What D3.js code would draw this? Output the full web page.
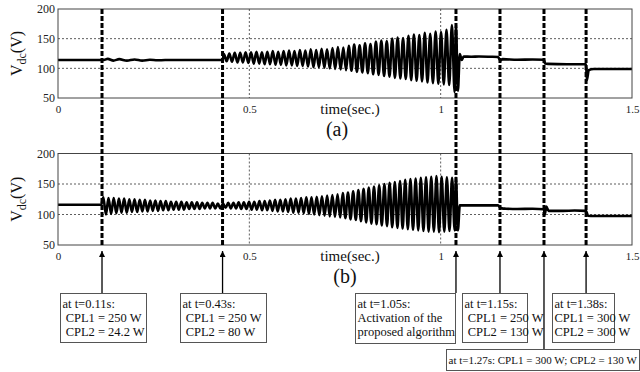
<!DOCTYPE html>
<html>
<head>
<meta charset="utf-8">
<script src="https://cdn.jsdelivr.net/npm/d3@7/dist/d3.min.js"></script>
<style>
  body { margin: 0; background: #fff; }
</style>
</head>
<body>
<script>
// x ticks and y ticks
var xTicks = [0, 0.5, 1, 1.5];
var yTicks = [50, 100, 150, 200];

// times of the load steps (dashed lines)
var eventTimes = [0.115, 0.43, 1.04, 1.155, 1.27, 1.38];

// annotation texts, one per event
var eventNotes = [
  ["at t=0.11s:", " CPL1 = 250 W", " CPL2 = 24.2 W"],
  ["at t=0.43s:", " CPL1 = 250 W", " CPL2 = 80 W"],
  ["at t=1.05s:", "Activation of the", "proposed algorithm"],
  ["at t=1.15s:", " CPL1 = 250 W", " CPL2 = 130 W"],
  ["at t=1.27s: CPL1 = 300 W; CPL2 = 130 W"],
  ["at t=1.38s:", "CPL1 = 300 W", "CPL2 = 300 W"]
];

// (a) before the oscillation: [time, Vdc]
var aStart = [[0, 114], [0.12, 114], [0.13, 116], [0.145, 113], [0.16, 115.5], [0.18, 113],
  [0.2, 115], [0.22, 113], [0.24, 114.5], [0.26, 113.5], [0.28, 114], [0.43, 114]];
// (a) oscillation 0.43 -> 1.04, peak and trough of each cycle
var aOscSpan = [0.43, 1.04];
var aHigh = [124, 125, 126, 126, 127, 127, 128, 127, 128, 129, 128, 129,
  130, 129, 131, 130, 132, 131, 133, 132, 134, 136, 135, 138, 140, 139,
  142, 141, 145, 147, 146, 150, 152, 151, 155, 157, 156, 160, 158, 162, 161, 165, 173];
var aLow = [112, 111, 110, 110, 109, 108, 108, 107, 107, 106, 106, 105,
  105, 104, 104, 103, 102, 102, 101, 100, 99, 98, 97, 96, 94, 93,
  92, 90, 89, 87, 86, 84, 83, 82, 80, 79, 78, 76, 75, 74, 73, 72, 60];
// (a) after the algorithm is on
var aEnd = [[1.04, 173], [1.045, 62], [1.05, 124], [1.055, 114], [1.06, 120], [1.08, 119.5],
  [1.1, 120], [1.13, 119.5], [1.15, 119], [1.156, 113], [1.162, 115.5], [1.2, 114.5],
  [1.24, 115], [1.27, 114.5], [1.273, 108], [1.28, 107.5], [1.33, 107], [1.38, 107],
  [1.382, 80], [1.387, 97], [1.4, 99], [1.45, 99], [1.5, 99]];

// (b) before the oscillation
var bStart = [[0, 116], [0.113, 116]];
// (b) oscillation 0.115 -> 1.04
var bOscSpan = [0.115, 1.04];
var bHigh = [128, 127, 127, 126, 126, 125, 125, 124, 124, 123,
  123, 122, 122, 121, 121, 121, 120, 120, 120, 119,
  119, 119, 118, 118, 119, 119, 120, 120, 121, 121,
  122, 122, 123, 124, 124, 125, 126, 126, 127, 128,
  128, 129, 130, 131, 132, 133, 135, 136, 138, 140,
  142, 144, 146, 148, 150, 152, 153, 155, 157, 158,
  159, 160, 161, 162, 163, 162, 161, 160];
var bLow = [100, 101, 102, 103, 103, 104, 104, 105, 105, 106,
  106, 107, 107, 108, 108, 108, 109, 109, 109, 110,
  110, 110, 110, 111, 110, 110, 109, 109, 108, 108,
  107, 107, 106, 105, 105, 104, 103, 103, 102, 101,
  100, 99, 98, 97, 96, 95, 94, 92, 91, 89,
  87, 85, 84, 82, 81, 79, 78, 77, 76, 75,
  74, 73, 72, 72, 71, 72, 73, 74];
// (b) after the algorithm is on
var bEnd = [[1.04, 160], [1.045, 74], [1.05, 115], [1.1, 115], [1.15, 115], [1.155, 112],
  [1.16, 110], [1.17, 109.5], [1.2, 109], [1.24, 109.5], [1.27, 108.5], [1.272, 100],
  [1.276, 113], [1.282, 106], [1.32, 106], [1.35, 106.5], [1.38, 106], [1.385, 98],
  [1.4, 97.5], [1.45, 97.5], [1.5, 97.5]];

var width = 640, height = 372;
var serif = "Liberation Serif, Times New Roman, serif";

var svg = d3.select("body").append("svg")
  .attr("width", width)
  .attr("height", height)
  .style("display", "block");

// arrow head
svg.append("defs").append("marker")
  .attr("id", "head")
  .attr("viewBox", "0 0 10 10")
  .attr("refX", 10).attr("refY", 5)
  .attr("markerWidth", 7).attr("markerHeight", 6)
  .attr("markerUnits", "userSpaceOnUse")
  .attr("orient", "auto")
  .append("path")
  .attr("d", "M0,0L10,5L0,10Z")
  .attr("fill", "#000");

var x = d3.scaleLinear().domain([0, 1.5]).range([58, 632]);
var yA = d3.scaleLinear().domain([50, 200]).range([98, 9]);
var yB = d3.scaleLinear().domain([50, 200]).range([245, 153.5]);

// turn peak/trough lists into a point list
function oscPoints(span, highs, lows) {
  var n = highs.length, dt = (span[1] - span[0]) / n, pts = [];
  for (var i = 0; i < n; i++) {
    pts.push([span[0] + (i + 0.25) * dt, highs[i]]);
    pts.push([span[0] + (i + 0.75) * dt, lows[i]]);
  }
  return pts;
}

var aSeries = aStart.concat(oscPoints(aOscSpan, aHigh, aLow), aEnd);
var bSeries = bStart.concat(oscPoints(bOscSpan, bHigh, bLow), bEnd);

function drawPanel(y, series, tag, tagX) {
  var g = svg.append("g");

  // dotted grid
  g.selectAll(".hg").data([100, 150]).enter().append("line")
    .attr("x1", x(0)).attr("x2", x(1.5))
    .attr("y1", function(d) { return y(d); })
    .attr("y2", function(d) { return y(d); })
    .attr("stroke", "#333").attr("stroke-width", 0.8)
    .attr("stroke-dasharray", "2,2");
  g.selectAll(".vg").data([0.5, 1]).enter().append("line")
    .attr("x1", function(d) { return x(d); })
    .attr("x2", function(d) { return x(d); })
    .attr("y1", y(200)).attr("y2", y(50))
    .attr("stroke", "#333").attr("stroke-width", 0.8)
    .attr("stroke-dasharray", "2,2");

  // trace
  g.append("path")
    .datum(series)
    .attr("fill", "none")
    .attr("stroke", "#000")
    .attr("stroke-width", 2.6)
    .attr("stroke-linejoin", "round")
    .attr("d", d3.line()
      .curve(d3.curveMonotoneX)
      .x(function(d) { return x(d[0]); })
      .y(function(d) { return y(d[1]); }));

  // frame
  g.append("rect")
    .attr("x", x(0)).attr("y", y(200))
    .attr("width", x(1.5) - x(0)).attr("height", y(50) - y(200))
    .attr("fill", "none").attr("stroke", "#444").attr("stroke-width", 1);

  // axes, labels only
  var xa = g.append("g")
    .attr("transform", "translate(0," + y(50) + ")")
    .call(d3.axisBottom(x).tickValues(xTicks).tickSize(0).tickPadding(7)
      .tickFormat(function(d) { return d; }));
  var ya = g.append("g")
    .attr("transform", "translate(" + x(0) + ",0)")
    .call(d3.axisLeft(y).tickValues(yTicks).tickSize(0).tickPadding(3));
  xa.attr("font-family", serif).attr("font-size", 11);
  ya.attr("font-family", serif).attr("font-size", 12);
  [xa, ya].forEach(function(a) {
    a.select(".domain").remove();
    a.selectAll("text").attr("fill", "#222");
  });

  // y label V_dc(V)
  var yl = g.append("text")
    .attr("transform", "translate(22," + y(125) + ") rotate(-90)")
    .attr("text-anchor", "middle")
    .attr("font-family", serif)
    .attr("font-size", 16)
    .attr("fill", "#111");
  yl.append("tspan").text("V");
  yl.append("tspan").attr("font-size", 12).attr("dy", 4).text("dc");
  yl.append("tspan").attr("dy", -4).text("(V)");

  g.append("text")
    .attr("x", 350).attr("y", y(50) + 16)
    .attr("text-anchor", "middle")
    .attr("font-family", serif)
    .attr("font-size", 15)
    .attr("fill", "#111")
    .text("time(sec.)");

  g.append("text")
    .attr("x", tagX).attr("y", y(50) + 38)
    .attr("text-anchor", "middle")
    .attr("font-family", serif)
    .attr("font-size", 20)
    .attr("fill", "#111")
    .text(tag);
}

drawPanel(yA, aSeries, "(a)", 337);
drawPanel(yB, bSeries, "(b)", 345);

// thick dashed event lines through both panels
svg.selectAll(".ev").data(eventTimes).enter().append("line")
  .attr("x1", function(d) { return x(d); })
  .attr("x2", function(d) { return x(d); })
  .attr("y1", yA(200)).attr("y2", yB(50) + 1)
  .attr("stroke", "#000").attr("stroke-width", 3)
  .attr("stroke-dasharray", "5,2");

// annotation boxes (left, top, width, height, font size)
var boxes = [
  [60, 293, 86, 49, 12.5],
  [180, 293, 86, 49, 12.5],
  [355, 293, 100, 50, 12.5],
  [462, 293, 65, 49, 12.5],
  [446, 349, 193, 21, 11],
  [552, 293, 62, 49, 12.5]
];

boxes.forEach(function(b, i) {
  var ex = x(eventTimes[i]);
  svg.append("line")
    .attr("x1", ex).attr("x2", ex)
    .attr("y1", b[1]).attr("y2", 251)
    .attr("stroke", "#000").attr("stroke-width", 1.3)
    .attr("marker-end", "url(#head)");

  svg.append("rect")
    .attr("x", b[0] + 0.5).attr("y", b[1] + 0.5)
    .attr("width", b[2]).attr("height", b[3])
    .attr("fill", "#fff").attr("stroke", "#555").attr("stroke-width", 1);

  var t = svg.append("text")
    .attr("font-family", serif)
    .attr("font-size", b[4])
    .attr("fill", "#111")
    .style("white-space", "pre");
  eventNotes[i].forEach(function(line, j) {
    t.append("tspan")
      .attr("x", b[0] + 2.5)
      .attr("y", b[1] + 15 + j * 14)
      .text(line);
  });
});
</script>
</body>
</html>
